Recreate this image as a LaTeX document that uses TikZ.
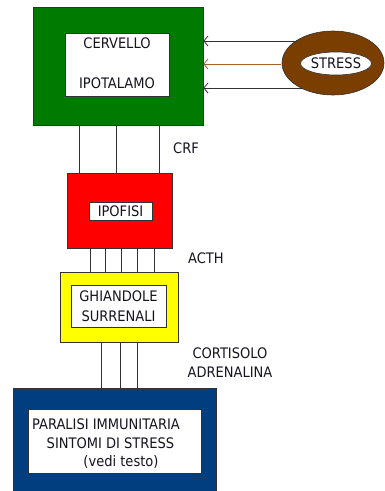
\documentclass[tikz,border=0pt]{standalone}
\usepackage{fontspec}
\setmainfont{DejaVu Sans Condensed}
\usetikzlibrary{arrows.meta,shapes.geometric}
\definecolor{gbox}{RGB}{0,122,0}
\definecolor{rbox}{RGB}{255,0,0}
\definecolor{ybox}{RGB}{255,255,0}
\definecolor{bbox}{RGB}{0,62,128}
\definecolor{brown1}{RGB}{122,62,0}
\definecolor{brown2}{RGB}{160,100,50}
\definecolor{dline}{RGB}{50,50,50}
\definecolor{txt}{RGB}{20,20,30}
\tikzset{
  outer/.style={draw=dline,line width=0.9pt,minimum width=#1,inner sep=0pt},
  inner/.style={draw=dline,fill=white,line width=0.9pt,inner sep=0pt,align=center,text=txt},
  lbl/.style={text=txt,inner sep=0pt,align=center},
  wire/.style={draw=dline,line width=0.9pt},
  arr/.style={draw=dline,line width=0.8pt,-{Straight Barb[length=4pt,width=10pt,line width=0.8pt]}},
  ft/.style={font=\fontsize{14.5}{19}\selectfont}
}
\begin{document}
\begin{tikzpicture}[x=1pt,y=-1pt,ft]
\useasboundingbox (0,0) rectangle (384,491);
% boxes
\node[outer=170pt,minimum height=118pt,fill=gbox] (green) at (118,66) {};
\node[inner,minimum width=104pt,minimum height=63pt] (ghi) at (117,64.5) {};
\node[lbl] (cer) at (117,43.5) {CERVELLO};
\node[lbl] (ipo) at (117,83.5) {IPOTALAMO};
\node[outer=105pt,minimum height=75pt,fill=rbox] (red) at (119.5,210.5) {};
\node[inner,minimum width=63pt,minimum height=18pt] (rin) at (120.5,211) {IPOFISI};
\node[outer=118pt,minimum height=70pt,fill=ybox] (yel) at (119,307) {};
\node[inner,minimum width=95pt,minimum height=42pt,font=\fontsize{14.5}{20}\selectfont] (yin) at (118.5,306) {GHIANDOLE\\SURRENALI};
\node[outer=203pt,minimum height=104pt,fill=bbox] (blue) at (114.5,440) {};
\node[inner,minimum width=173pt,minimum height=64pt] (bin) at (114.5,441) {};
\node[lbl,anchor=west] (b1) at (32,424) {PARALISI IMMUNITARIA};
\node[lbl] (b2) at (110.5,443) {SINTOMI DI STRESS};
\node[lbl] (b3) at (121,462) {(vedi testo)};
% stress ellipse
\node[draw=dline,fill=brown1,ellipse,minimum width=102pt,minimum height=64pt,inner sep=0pt,line width=0.6pt] (stress) at (333,63) {};
\node[draw=dline,fill=white,ellipse,minimum width=70pt,minimum height=23pt,inner sep=0pt,line width=0.6pt,text=txt] (sin) at (336,63.5) {STRESS};
% arrows
\coordinate (s1) at (297,41);
\coordinate (s2) at (281,64);
\coordinate (s3) at (303,88);
\draw[arr] (s1) -- (s1 -| green.east);
\draw[arr,draw=brown2] (s2) -- (s2 -| green.east);
\draw[arr] (s3) -- (s3 -| green.east);
% wires
\foreach \x in {79,116,159}{
  \draw[wire] (\x,0 |- green.south) -- (\x,0 |- red.north);
}
\foreach \x in {90,105,121,137,154}{
  \draw[wire] (\x,0 |- red.south) -- (\x,0 |- yel.north);
}
\foreach \x in {101,120,137}{
  \draw[wire] (\x,0 |- yel.south) -- (\x,0 |- blue.north);
}
% labels
\node[lbl] (crf) at (186,148) {CRF};
\node[lbl] (acth) at (206,258) {ACTH};
\node[lbl] (cort) at (230,362.5) {CORTISOLO\\ADRENALINA};
\end{tikzpicture}
\end{document}
